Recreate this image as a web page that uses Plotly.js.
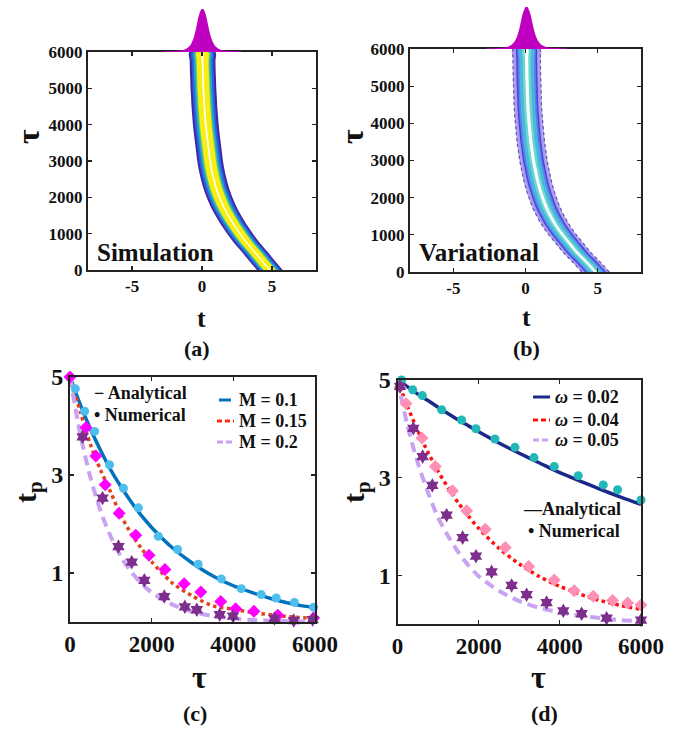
<!DOCTYPE html>
<html><head><meta charset="utf-8">
<script src="https://cdn.plot.ly/plotly-3.0.1.min.js"></script>
<style>html,body{margin:0;padding:0;background:#fff}#chart{width:693px;height:729px}</style>
</head><body><div id="chart"></div>
<script>
const W = 693, H = 729;
const SERIF = 'Liberation Serif, Times New Roman, serif';

// ---------- data: panels (a), (b) ----------
const tauTraj = [0,250,500,750,1000,1250,1500,1750,2000,2250,2500,2750,3000,3250,3500,3750,4000,4250,4500,4750,5000,5250,5500,5750,6000];
const centerSim = [4.85,4.3,3.76,3.2,2.72,2.27,1.88,1.53,1.25,1.02,0.84,0.69,0.58,0.5,0.42,0.34,0.27,0.22,0.17,0.14,0.10,0.08,0.055,0.04,0.03];
const centerVar = [4.85,4.26,3.63,3.1,2.57,2.11,1.74,1.43,1.19,0.98,0.81,0.68,0.55,0.46,0.37,0.31,0.25,0.2,0.16,0.14,0.12,0.1,0.09,0.08,0.07];
const pulseOffset = [-2.8,-2.0,-1.5,-1.2,-1.0,-0.8,-0.6,-0.4,-0.2,0,0.2,0.4,0.6,0.8,1.0,1.2,1.5,2.0,2.8];
const pulseInt    = [0,0.005,0.02,0.05,0.09,0.16,0.3,0.55,0.85,1,0.85,0.55,0.3,0.16,0.09,0.05,0.02,0.005,0];
const tTicks = [-5,0,5];
const tTickText = ['-5','0','5'];
const tauTicksTop = [0,1000,2000,3000,4000,5000,6000];

// ---------- data: panel (c) ----------
const tauLine = [0,250,500,750,1000,1250,1500,1750,2000,2500,3000,3500,4000,4500,5000,5500,6000];
const anaM010 = [5,4.44,3.94,3.50,3.10,2.76,2.45,2.17,1.93,1.52,1.20,0.94,0.74,0.59,0.46,0.36,0.29];
const anaM015 = [5,4.3,3.62,3.1,2.64,2.17,1.8,1.5,1.23,0.8,0.53,0.33,0.26,0.19,0.14,0.1,0.07];
const anaM020 = [5,3.84,2.95,2.26,1.74,1.33,1.02,0.79,0.60,0.36,0.21,0.12,0.07,0.04,0.025,0.015,0.01];
const numM010Tau = [0,130,358,602,968,1309,1675,2163,2634,3138,3707,4195,4683,5049,5496,5967];
const numM010    = [5.0,4.76,4.30,3.89,3.21,2.73,2.33,1.75,1.48,1.18,0.88,0.68,0.56,0.49,0.40,0.30];
const numM015Tau = [0,390,634,862,1203,1610,1935,2325,2797,3203,3691,4057,4504,5089,5967];
const numM015    = [5.0,3.97,3.39,2.80,2.22,1.77,1.36,1.07,0.78,0.61,0.42,0.27,0.22,0.14,0.08];
const numM020Tau = [309,797,1187,1512,1821,2309,2813,3106,3667,3992,5008,5480,5943];
const numM020    = [3.78,2.53,1.54,1.22,0.85,0.52,0.31,0.25,0.15,0.12,0.07,0.03,0.05];

// ---------- data: panel (d) ----------
const anaW002 = [5,4.86,4.71,4.58,4.44,4.31,4.18,4.06,3.94,3.71,3.50,3.30,3.10,2.93,2.76,2.60,2.45];
const anaW004 = [5,4.45,3.96,3.52,3.13,2.79,2.48,2.21,1.96,1.55,1.23,0.97,0.77,0.61,0.48,0.38,0.30];
const anaW005 = [5,4.05,3.3,2.7,2.18,1.8,1.47,1.2,0.98,0.68,0.47,0.33,0.24,0.17,0.12,0.08,0.06];
const numW002Tau = [100,374,612,1088,1580,1933,2401,2894,3362,3863,4454,5070,5423,6000];
const numW002    = [5.0,4.80,4.68,4.39,4.18,4.0,3.79,3.62,3.41,3.23,3.04,2.85,2.75,2.54];
const numW004Tau = [60,209,603,932,1354,1704,2163,2655,3231,3862,4355,4823,5300,5670,6000];
const numW004    = [4.85,4.52,3.81,3.23,2.73,2.32,1.94,1.57,1.18,0.90,0.68,0.57,0.48,0.43,0.39];
const numW005Tau = [62,390,620,858,1211,1605,1933,2319,2812,3182,3674,4085,4536,5152,6000];
const numW005    = [4.87,4.01,3.43,2.84,2.23,1.77,1.39,1.07,0.79,0.60,0.44,0.27,0.21,0.12,0.08];
const tauTicksBottom = [0,2000,4000,6000];
const tpTicks = [1,3,5];

// ---------- styles ----------
const bandsSim = [
  {h:0.92, c:'#3d27a6'}, {h:0.78, c:'#2e5fdc'}, {h:0.63, c:'#1aa6d6'},
  {h:0.52, c:'#3dbfa0'}, {h:0.46, c:'#a6cf3a'}, {h:0.41, c:'#f7ee12'}, {h:0.06, c:'#ffffff'}
];
const bandsVar = [
  {h:0.97, c:'rgba(110,90,210,0.55)'}, {h:0.82, c:'rgba(150,140,235,0.45)'},
  {h:0.68, c:'rgba(70,80,235,0.75)'}, {h:0.60, c:'rgba(90,150,235,0.6)'},
  {h:0.50, c:'rgba(70,200,215,0.75)'}, {h:0.28, c:'rgba(110,225,205,0.8)'}, {h:0.11, c:'#ffffff'}
];

function band(center, half, color, xa, ya) {
  const xs = [], ys = [];
  for (let i = 0; i < tauTraj.length; i++) { xs.push(center[i] - half); ys.push(tauTraj[i]); }
  for (let i = tauTraj.length - 1; i >= 0; i--) { xs.push(center[i] + half); ys.push(tauTraj[i]); }
  return {type:'scatter', mode:'lines', x:xs, y:ys, fill:'toself', fillcolor:color,
          line:{width:0, shape:'spline', smoothing:1}, xaxis:xa, yaxis:ya, hoverinfo:'skip', showlegend:false};
}
function edge(center, off, color, xa, ya, dash) {
  return {type:'scatter', mode:'lines', x:center.map(c => c + off), y:tauTraj,
          line:{width:1.2, color:color, dash:dash || 'solid', shape:'spline', smoothing:1}, xaxis:xa, yaxis:ya, hoverinfo:'skip', showlegend:false};
}

const traces = [];
bandsSim.forEach(b => traces.push(band(centerSim, b.h, b.c, 'x', 'y')));
bandsVar.forEach(b => traces.push(band(centerVar, b.h, b.c, 'x2', 'y2')));
[-0.95, 0.95].forEach(o => traces.push(edge(centerVar, o, 'rgba(90,60,190,0.9)', 'x2', 'y2', 'dot')));
[-0.68, 0.68].forEach(o => traces.push(edge(centerVar, o, 'rgba(60,60,230,0.9)', 'x2', 'y2')));

// pulses on top
const magenta = '#c000c0';
traces.push({type:'scatter', mode:'lines', x:pulseOffset.map(v => v + centerSim[centerSim.length-1]), y:pulseInt,
  fill:'tozeroy', fillcolor:magenta, line:{color:magenta, width:1.5, shape:'spline'}, xaxis:'x', yaxis:'y5', hoverinfo:'skip', showlegend:false, cliponaxis:false});
traces.push({type:'scatter', mode:'lines', x:pulseOffset.map(v => v + centerVar[centerVar.length-1]), y:pulseInt,
  fill:'tozeroy', fillcolor:magenta, line:{color:magenta, width:1.5, shape:'spline'}, xaxis:'x2', yaxis:'y6', hoverinfo:'skip', showlegend:false, cliponaxis:false});

// panel (c)
const cBlue = '#0072bd', cSky = '#4dbeee', cOrange = '#e2421a', cMag = '#ff00ff', cLav = '#c9a3f2', cPurp = '#7e2f8e';
function line(x, y, color, width, dash, xa, ya) {
  return {type:'scatter', mode:'lines', x:x, y:y, line:{color:color, width:width, dash:dash, shape:'spline', smoothing:0.8},
          xaxis:xa, yaxis:ya, hoverinfo:'skip', showlegend:false};
}
function pts(x, y, color, symbol, size, xa, ya) {
  return {type:'scatter', mode:'markers', x:x, y:y, marker:{color:color, symbol:symbol, size:size, line:{width:0}},
          xaxis:xa, yaxis:ya, hoverinfo:'skip', showlegend:false, cliponaxis:false};
}
traces.push(line(tauLine, anaM010, cBlue, 3.5, 'solid', 'x3', 'y3'));
traces.push(line(tauLine, anaM015, cOrange, 3.5, 'dot', 'x3', 'y3'));
traces.push(line(tauLine, anaM020, cLav, 4, '10px,6px', 'x3', 'y3'));
traces.push(pts(numM010Tau, numM010, cSky, 'circle', 9, 'x3', 'y3'));
traces.push(pts(numM015Tau, numM015, cMag, 'diamond', 10, 'x3', 'y3'));
traces.push(pts(numM020Tau, numM020, cPurp, 'hexagram', 11, 'x3', 'y3'));

// panel (d)
const cNavy = '#1b2a88', cTeal = '#21b8b8', cRed = '#ff1010', cPink = '#ff8fb3';
traces.push(line(tauLine, anaW002, cNavy, 3.5, 'solid', 'x4', 'y4'));
traces.push(line(tauLine, anaW004, cRed, 3.5, 'dot', 'x4', 'y4'));
traces.push(line(tauLine, anaW005, cLav, 4, '10px,6px', 'x4', 'y4'));
traces.push(pts(numW002Tau, numW002, cTeal, 'circle', 9, 'x4', 'y4'));
traces.push(pts(numW004Tau, numW004, cPink, 'diamond', 10, 'x4', 'y4'));
traces.push(pts(numW005Tau, numW005, cPurp, 'hexagram', 11, 'x4', 'y4'));

// ---------- layout ----------
const px = v => v / W, py = v => 1 - v / H;
function axis(domain, range, tickvals, ticktext, size, anchor) {
  return {domain:domain, range:range, tickvals:tickvals, ticktext:ticktext.map(t => '<b>' + t + '</b>'), anchor:anchor,
    showline:true, linecolor:'#222', linewidth:2, mirror:'ticks', ticks:'inside', ticklen:4, tickwidth:1.2, tickcolor:'#222',
    showgrid:false, zeroline:false, fixedrange:true,
    tickfont:{family:SERIF, size:size, color:'#111'}};
}
const layout = {
  width:W, height:H, margin:{l:0, r:0, t:0, b:0}, paper_bgcolor:'#fff', plot_bgcolor:'rgba(0,0,0,0)', showlegend:false,
  xaxis:  axis([px(88), px(316)], [-8.15, 8.15], tTicks, tTickText, 17, 'y'),
  yaxis:  axis([py(270), py(52)], [0, 6000], tauTicksTop, tauTicksTop.map(String), 17, 'x'),
  xaxis2: axis([px(410), px(641)], [-8, 8], tTicks, tTickText, 17, 'y2'),
  yaxis2: axis([py(272), py(49)], [0, 6000], tauTicksTop, tauTicksTop.map(String), 17, 'x2'),
  xaxis3: axis([px(70), px(315)], [0, 6000], tauTicksBottom, tauTicksBottom.map(String), 23, 'y3'),
  yaxis3: axis([py(622), py(377)], [0, 5], tpTicks, tpTicks.map(String), 24, 'x3'),
  xaxis4: axis([px(397.5), px(641)], [0, 6000], tauTicksBottom, tauTicksBottom.map(String), 23, 'y4'),
  yaxis4: axis([py(624), py(380)], [0, 5], tpTicks, tpTicks.map(String), 24, 'x4'),
  yaxis5: {domain:[py(52), py(9)], range:[0, 1], anchor:'x', visible:false, fixedrange:true},
  yaxis6: {domain:[py(49), py(7)], range:[0, 1], anchor:'x2', visible:false, fixedrange:true},
  annotations: [], shapes: []
};

function ann(text, x, y, size, opts) {
  layout.annotations.push(Object.assign({text:'<b>' + text + '</b>', x:px(x), y:py(y), xref:'paper', yref:'paper', showarrow:false,
    xanchor:'center', yanchor:'middle', font:{family:SERIF, size:size, color:'#111'}}, opts || {}));
}
// panel labels / inner labels
ann('Simulation', 95, 252, 25, {xanchor:'left'});
ann('Variational', 417, 253, 25, {xanchor:'left'});
ann('(a)', 197, 348, 22); ann('(b)', 526, 348, 22);
ann('(c)', 195, 713, 22); ann('(d)', 544, 713, 22);
// axis titles
ann('τ', 28, 137, 32, {textangle:-90}); ann('τ', 352, 137, 32, {textangle:-90});
ann('t', 201, 318, 26); ann('t', 526, 317, 26);
ann('τ', 200, 677, 32); ann('τ', 538, 677, 32);
ann('t<sub>p</sub>', 28, 492, 30, {textangle:-90}); ann('t<sub>p</sub>', 356, 492, 30, {textangle:-90});
// legends (c)
ann('− Analytical', 92, 393, 18, {xanchor:'left'});
ann('• Numerical', 92, 415, 18, {xanchor:'left'});
ann('M = 0.1', 237, 400, 18, {xanchor:'left'});
ann('M = 0.15', 237, 421, 18, {xanchor:'left'});
ann('M = 0.2', 237, 442, 18, {xanchor:'left'});
// legends (d)
ann('<i>ω</i> = 0.02', 553, 397, 18, {xanchor:'left'});
ann('<i>ω</i> = 0.04', 553, 420, 18, {xanchor:'left'});
ann('<i>ω</i> = 0.05', 553, 440, 18, {xanchor:'left'});
ann('—Analytical', 521, 509, 18, {xanchor:'left'});
ann('• Numerical', 526, 531, 18, {xanchor:'left'});

function sample(x0, x1, y, color, width, dash) {
  layout.shapes.push({type:'line', xref:'paper', yref:'paper', x0:px(x0), x1:px(x1), y0:py(y), y1:py(y),
    line:{color:color, width:width, dash:dash}});
}
sample(219, 231, 400, cBlue, 3, 'solid');
sample(217, 234, 421, '#ff2a10', 3, '5px,3px');
sample(217, 234, 442, cLav, 3, '6px,3px');
sample(533, 550, 397, cNavy, 3, 'solid');
sample(533, 550, 420, '#ff1010', 3, '5px,3px');
sample(533, 550, 440, cLav, 3, '6px,3px');

Plotly.newPlot('chart', traces, layout, {staticPlot:true, displayModeBar:false});
</script>
</body></html>
